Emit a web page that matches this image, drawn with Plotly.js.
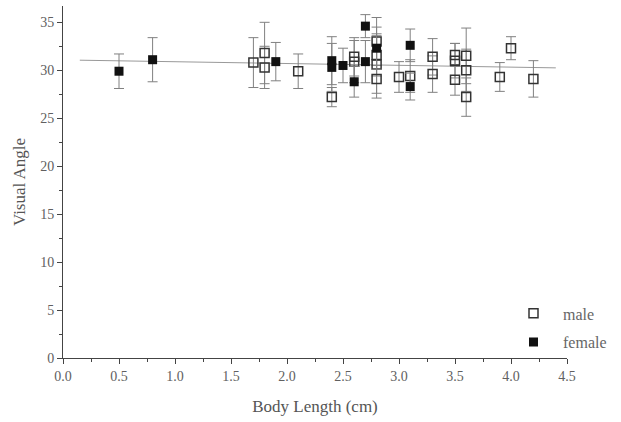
<!DOCTYPE html>
<html>
<head>
<meta charset="utf-8">
<script src="https://cdn.plot.ly/plotly-3.0.1.min.js"></script>
<style>html,body{margin:0;padding:0;background:#fff;}#chart{width:621px;height:422px;}</style>
</head>
<body>
<div id="chart"></div>
<script>
// Male (open squares)
const maleX = [1.7, 1.8, 1.8, 2.1, 2.4, 2.6, 2.6, 2.8, 2.8, 2.8, 2.8, 3.0, 3.1, 3.3, 3.3, 3.5, 3.5, 3.5, 3.6, 3.6, 3.6, 3.9, 4.0, 4.2];
const maleY = [30.8, 31.8, 30.3, 29.9, 27.2, 31.4, 30.9, 33.0, 31.6, 30.6, 29.1, 29.3, 29.4, 31.4, 29.6, 31.6, 31.0, 29.0, 31.5, 30.0, 27.2, 29.3, 32.3, 29.1];
const maleErr = [2.6, 3.2, 2.2, 1.8, 1.0, 2.0, 2.2, 2.5, 2.2, 3.0, 2.0, 1.6, 1.7, 1.9, 1.9, 1.2, 1.8, 1.6, 2.9, 2.2, 2.0, 1.5, 1.2, 1.9];
// Female (filled squares)
const femaleX = [0.5, 0.8, 1.9, 2.4, 2.4, 2.5, 2.6, 2.7, 2.7, 2.8, 3.1, 3.1];
const femaleY = [29.9, 31.1, 30.9, 31.0, 30.3, 30.5, 28.8, 34.6, 30.9, 32.3, 32.6, 28.3];
const femaleErr = [1.8, 2.3, 2.0, 2.5, 2.5, 1.8, 1.6, 1.2, 2.2, 2.2, 1.7, 1.4];
// Regression line
const fitX = [0.15, 4.4];
const fitY = [31.05, 30.25];

const SERIF = 'Liberation Serif';
const traces = [
  {x: fitX, y: fitY, mode: 'lines', line: {color: '#999', width: 1}, showlegend: false, hoverinfo: 'skip'},
  {x: maleX, y: maleY, mode: 'markers', name: 'male', type: 'scatter', legendgroup: 'm',
   marker: {symbol: 'square-open', size: 9, color: '#333', line: {width: 1.5, color: '#333'}},
   error_y: {type: 'data', array: maleErr, visible: true, color: '#808080', thickness: 1, width: 5}},
  {x: femaleX, y: femaleY, mode: 'markers', name: 'female', type: 'scatter', legendgroup: 'f',
   marker: {symbol: 'square', size: 9, color: '#111'},
   error_y: {type: 'data', array: femaleErr, visible: true, color: '#808080', thickness: 1, width: 5}},
  // invisible helper trace on overlay axes for minor ticks
  {x: [0], y: [0], xaxis: 'x2', yaxis: 'y2', mode: 'markers', marker: {opacity: 0}, showlegend: false, hoverinfo: 'skip'}
];
const axCommon = {showgrid: false, zeroline: false, showline: true, linecolor: '#444', linewidth: 1,
  ticks: 'outside', ticklen: 5, tickcolor: '#444'};
const layout = {
  width: 621, height: 422,
  margin: {l: 63, r: 54, t: 6, b: 64},
  paper_bgcolor: '#fff', plot_bgcolor: '#fff',
  font: {family: SERIF, color: '#555', size: 13},
  xaxis: Object.assign({}, axCommon, {range: [0, 4.5], dtick: 0.5, tick0: 0, tickformat: '.1f',
    tickfont: {family: SERIF, size: 14, color: '#606060'},
    title: {text: 'Body Length (cm)', font: {family: SERIF, size: 17, color: '#555'}, standoff: 17}}),
  yaxis: Object.assign({}, axCommon, {range: [0, 36.7], dtick: 5, tick0: 0,
    tickfont: {family: SERIF, size: 14, color: '#606060'},
    title: {text: 'Visual Angle', font: {family: SERIF, size: 17, color: '#555'}, standoff: 10}}),
  xaxis2: {overlaying: 'x', anchor: 'y2', range: [0, 4.5], dtick: 0.25, tick0: 0, ticks: 'outside', ticklen: 3,
    tickcolor: '#444', showticklabels: false, showgrid: false, zeroline: false, showline: false},
  yaxis2: {overlaying: 'y', anchor: 'x2', range: [0, 36.7], dtick: 2.5, tick0: 0, ticks: 'outside', ticklen: 3,
    tickcolor: '#444', showticklabels: false, showgrid: false, zeroline: false, showline: false},
  legend: {x: 0.875, y: 0.175, xanchor: 'left', yanchor: 'top', bgcolor: 'rgba(0,0,0,0)',
    traceorder: 'grouped', tracegroupgap: 5, itemwidth: 49,
    font: {family: SERIF, size: 16, color: '#666'}},
  showlegend: true
};
Plotly.newPlot('chart', traces, layout, {displayModeBar: false, staticPlot: true});
</script>
</body>
</html>
